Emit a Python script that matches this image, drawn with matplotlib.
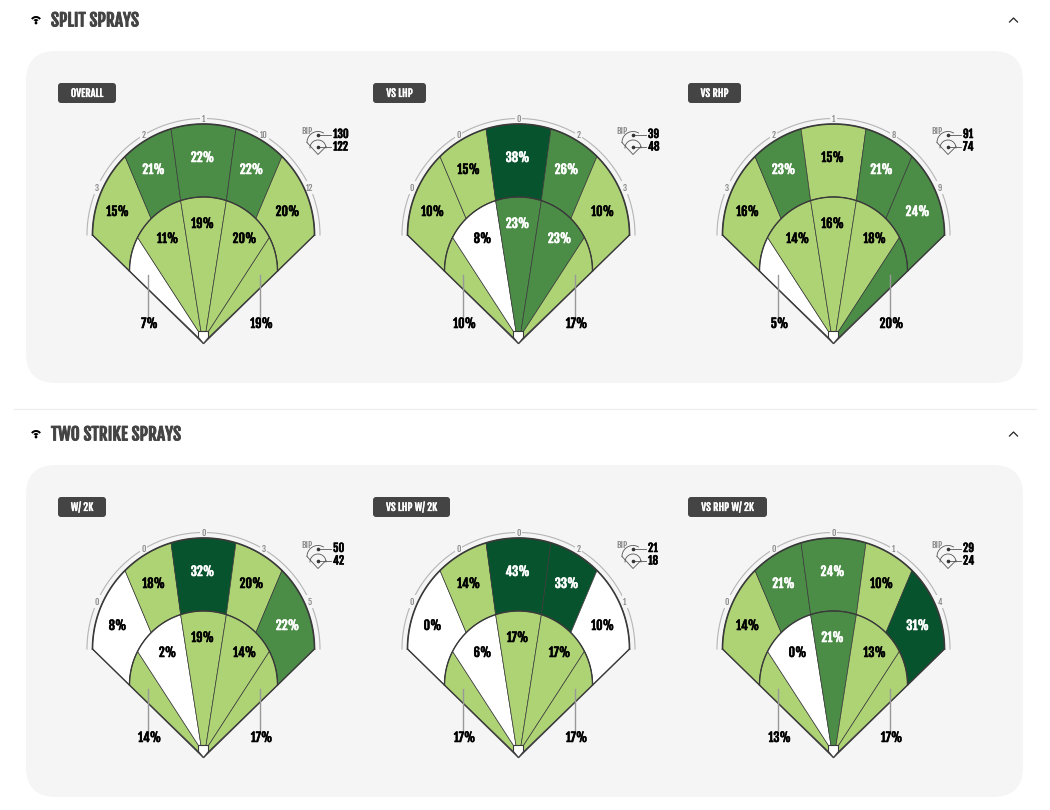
import numpy as np
import matplotlib
matplotlib.use("Agg")
import matplotlib.pyplot as plt
import matplotlib.font_manager as fm
import matplotlib.patheffects as pe
from matplotlib.patches import FancyBboxPatch, Polygon, Wedge, Circle
from matplotlib.transforms import Affine2D

titles = ["OVERALL", "VS LHP", "VS RHP", "W/ 2K", "VS LHP W/ 2K", "VS RHP W/ 2K"]

# left field to right field
outer_pct = [[15, 21, 22, 22, 20], [10, 15, 38, 26, 10], [16, 23, 15, 21, 24],
             [8, 18, 32, 20, 22], [0, 14, 43, 33, 10], [14, 21, 24, 10, 31]]
inner_pct = [[7, 11, 19, 20, 19], [10, 8, 23, 23, 17], [5, 14, 16, 18, 20],
             [14, 2, 19, 14, 17], [17, 6, 17, 17, 17], [13, 0, 21, 13, 17]]
outer_level = [[1, 2, 2, 2, 1], [1, 1, 3, 2, 1], [1, 2, 1, 2, 2],
               [0, 1, 3, 1, 2], [0, 1, 3, 3, 0], [1, 2, 2, 1, 3]]
inner_level = [[0, 1, 1, 1, 1], [1, 0, 2, 2, 1], [0, 1, 1, 1, 2],
               [1, 0, 1, 1, 1], [1, 0, 1, 1, 1], [1, 0, 2, 1, 1]]
counts = [[3, 2, 1, 10, 12], [0, 0, 0, 2, 3], [3, 2, 1, 8, 9],
          [0, 0, 0, 3, 5], [0, 0, 0, 2, 1], [0, 0, 0, 1, 4]]
bip_top = [130, 39, 91, 50, 21, 29]
bip_bottom = [122, 48, 74, 42, 18, 24]

level_colors = ["#ffffff", "#aed375", "#4b8d47", "#07532d"]
text_colors = ["#000000", "#000000", "#ffffff", "#ffffff"]
line_color = "#3a3a3a"
panel_color = "#f5f5f5"

installed = {f.name for f in fm.fontManager.ttflist}
heavy = [n for n in ("Fjalla One", "Oswald", "Special Gothic Condensed One", "Liberation Sans") if n in installed][:1] + ["DejaVu Sans"]

badge_w = [58, 53, 53, 48, 77, 79]
home_x = [203.5, 518.5, 833.5]
home_y = [343.5, 757.5]

outer_edges = [180, 135, 107, 73, 45, 0]
inner_top_edges = [180, 135, 108, 72, 45, 0]
inner_edges = [180, 153, 108, 72, 27, 0]
plate_edges = [-5, -2.5, 2.5, 5]
count_angles = [156, 121, 90, 59, 24]
outer_label_xy = [(-86, -132), (-50, -174), (-1, -186), (48, -174), (84, -132)]
inner_label_xy = [(-54, -20), (-36, -105), (-1, -120), (41, -105), (58, -20)]


def arc_pts(cx, cy, r, a0, a1, n=40):
    t = np.radians(np.linspace(a0, a1, n))
    return np.column_stack([cx + r * np.cos(t), cy - r * np.sin(t)])


def heavy_text(ax, x, y, s, size, color="black", ha="center", zorder=6, stroke=0.4):
    # this face sits a little low against the reference, hence the nudge
    t = ax.text(x, y - 1.5, s, fontsize=size, color=color, ha=ha, va="center_baseline",
                family=heavy, zorder=zorder)
    t.set_path_effects([pe.withStroke(linewidth=stroke, foreground=color)])
    return t


def draw_field(ax, i, hx, hy):
    cx, cy1, r1 = hx, hy - 108.5, 111
    cy2, r2 = hy - 72.5, 74

    for k in range(5):
        pts = np.vstack([arc_pts(cx, cy1, r1, outer_edges[k], outer_edges[k + 1]),
                         arc_pts(cx, cy2, r2, inner_top_edges[k + 1], inner_top_edges[k])])
        ax.add_patch(Polygon(pts, closed=True, fc=level_colors[outer_level[i][k]],
                             ec=line_color, lw=0.5, zorder=2))

    # inner wedges run from the inner arc down to the plate
    plate_top = hy - 12
    for k in range(5):
        arc = arc_pts(cx, cy2, r2, inner_edges[k], inner_edges[k + 1])
        if k == 0:
            rest = [(hx - 5, plate_top), (hx - 5, hy - 6)]
        elif k == 4:
            rest = [(hx + 5, hy - 6), (hx + 5, plate_top)]
        else:
            rest = [(hx + plate_edges[k], plate_top), (hx + plate_edges[k - 1], plate_top)]
        ax.add_patch(Polygon(np.vstack([arc, rest]), closed=True,
                             fc=level_colors[inner_level[i][k]], ec=line_color, lw=0.5, zorder=2))

    # heavy outlines
    ax.plot(*arc_pts(cx, cy1, r1, 180, 0, 120).T, color=line_color, lw=1.2, zorder=3)
    ax.plot(*arc_pts(cx, cy2, r2, 180, 0, 120).T, color=line_color, lw=1.0, zorder=3)
    ax.plot([cx - r1, hx, cx + r1], [cy1, hy, cy1], color=line_color, lw=1.0, zorder=3)
    ax.add_patch(Polygon([(hx - 5, plate_top), (hx + 5, plate_top), (hx + 5, hy - 6), (hx, hy), (hx - 5, hy - 6)],
                         closed=True, fc="white", ec=line_color, lw=0.8, zorder=4))

    # thin count arc with labels sitting in the gaps
    ax.plot(*arc_pts(cx, cy1, 116.5, 180, 0, 120).T, color="#b5b5b5", lw=0.8, zorder=1)
    for ang, c in zip(count_angles, counts[i]):
        t = np.radians(ang)
        ax.text(cx + 116.5 * np.cos(t), cy1 - 116.5 * np.sin(t), str(c), fontsize=6, color="#888888",
                ha="center", va="center", family=heavy, zorder=1.5,
                bbox=dict(fc=panel_color, ec="none", pad=1.0))

    # percent labels
    for k in range(5):
        dx, dy = outer_label_xy[k]
        heavy_text(ax, hx + dx, hy + dy, f"{outer_pct[i][k]}%", 9, text_colors[outer_level[i][k]])
    for k in (1, 2, 3):
        dx, dy = inner_label_xy[k]
        heavy_text(ax, hx + dx, hy + dy, f"{inner_pct[i][k]}%", 9, text_colors[inner_level[i][k]])
    for k, sign in ((0, -1), (4, 1)):
        lx = hx + sign * 56
        ax.plot([lx, lx], [hy - 69, hy - 25], color="#999999", lw=1, zorder=5)
        heavy_text(ax, hx + inner_label_xy[k][0], hy + inner_label_xy[k][1], f"{inner_pct[i][k]}%", 9)

    # BIP mini field
    mx, my = hx + 114.5, hy - 201
    ax.text(mx - 11, my - 11, "BIP", fontsize=6.5, color="#888888", ha="center", va="center", family=heavy)
    ax.plot(*arc_pts(mx, my, 11, 180, 60).T, color="#555555", lw=0.6)
    ax.plot(*arc_pts(mx, my + 5.5, 8, 180, 0).T, color="#555555", lw=0.6)
    ax.plot([mx - 11, mx, mx + 8], [my, my + 12, my + 4], color="#555555", lw=0.6)
    for y in (my - 8, my + 4):
        ax.plot([mx, mx + 13], [y, y], color="#555555", lw=0.6)
        ax.plot([mx], [y], "o", color="#333333", ms=1.6)
    heavy_text(ax, mx + 15, my - 8, str(bip_top[i]), 8, ha="left")
    heavy_text(ax, mx + 15, my + 4.5, str(bip_bottom[i]), 8, ha="left")


def flip(ax, y):
    # the y axis is inverted, so wedges drawn upward need mirroring about their centre
    dy = ax.transData.transform((0, y))[1]
    return Affine2D().translate(0, -dy).scale(1, -1).translate(0, dy)


def draw_header(ax, y, label):
    ax.add_patch(Wedge((36, y + 2), 6, 35, 145, width=2, fc="black", ec="none", transform=ax.transData + flip(ax, y + 2)))
    ax.add_patch(Wedge((36, y + 2), 3, 35, 145, fc="black", ec="none", transform=ax.transData + flip(ax, y + 2)))
    ax.add_patch(Circle((36, y + 3), 1.4, fc="black", ec="none"))
    heavy_text(ax, 51, y, label, 12.5, color="#444444", ha="left", stroke=0.6)
    ax.plot([1009.5, 1013.5, 1017.5], [y + 2, y - 2, y + 2], color="#222222", lw=0.9)


fig = plt.figure(figsize=(10.5, 8.1), dpi=100)
ax = fig.add_axes([0, 0, 1, 1])
ax.set_xlim(0, 1050)
ax.set_ylim(810, 0)
ax.axis("off")

draw_header(ax, 20, "SPLIT SPRAYS")
draw_header(ax, 434, "TWO STRIKE SPRAYS")
ax.plot([14, 1036], [409, 409], color="#ececec", lw=0.8)

for row, top in enumerate((51, 465)):
    ax.add_patch(FancyBboxPatch((26 + 30, top + 30), 997 - 60, 332 - 60,
                                boxstyle="round,pad=30,rounding_size=30", fc=panel_color, ec="none", zorder=0))
    for col in range(3):
        i = row * 3 + col
        hx, hy = home_x[col], home_y[row]
        bx = hx - 145.5
        ax.add_patch(FancyBboxPatch((bx + 3, top + 35), badge_w[i] - 6, 14,
                                    boxstyle="round,pad=3,rounding_size=3", fc="#444444", ec="none", zorder=1))
        heavy_text(ax, bx + badge_w[i] / 2, top + 43, titles[i], 7.5, color="white", zorder=2, stroke=0.2)
        draw_field(ax, i, hx, hy)

fig.savefig("out.png", dpi=100, facecolor="white")
